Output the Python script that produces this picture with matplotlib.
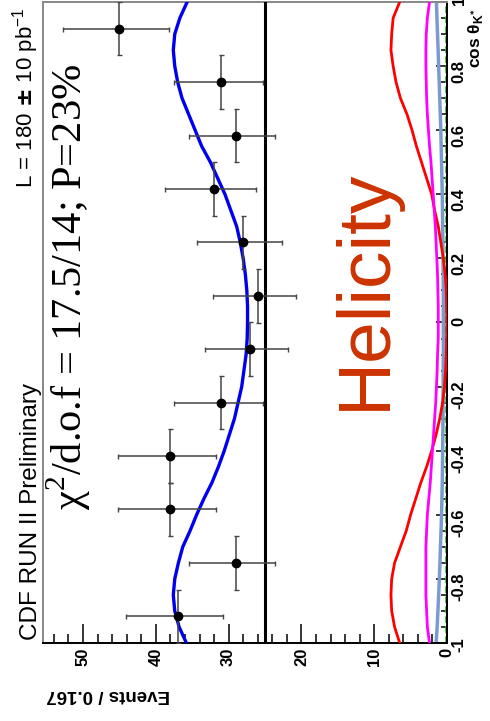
import matplotlib
matplotlib.use("Agg")
import matplotlib.pyplot as plt
from matplotlib.ticker import MultipleLocator, FuncFormatter

plt.rcParams['font.family'] = ['Liberation Sans', 'DejaVu Sans']
plt.rcParams['font.weight'] = 'bold'

# data points (cos theta_K* bin centres, events, poisson errors)
cos_centers = [-0.917, -0.75, -0.583, -0.417, -0.25, -0.083,
               0.083, 0.25, 0.417, 0.583, 0.75, 0.917]
events = [37, 29, 38, 38, 31, 27, 26, 28, 32, 29, 31, 45]
err_hi = [7.1, 6.5, 7.2, 7.2, 6.5, 6.2, 6.1, 6.4, 6.8, 6.5, 6.5, 7.7]
err_lo = [6.2, 5.4, 6.2, 6.2, 5.7, 5.2, 5.2, 5.4, 5.7, 5.4, 5.7, 6.8]
bin_half = 0.0833
flat_level = 25

# curves
cos_grid = [-1.00, -0.95, -0.90, -0.85, -0.80, -0.75, -0.70, -0.65, -0.60, -0.55,
            -0.50, -0.45, -0.40, -0.35, -0.30, -0.25, -0.20, -0.15, -0.10, -0.05,
            0.00, 0.05, 0.10, 0.15, 0.20, 0.25, 0.30, 0.35, 0.40, 0.45,
            0.50, 0.55, 0.60, 0.65, 0.70, 0.75, 0.80, 0.85, 0.90, 0.95, 1.00]
fit_total = [35.8, 36.8, 37.4, 37.6, 37.4, 36.9, 36.3, 35.3, 34.4, 33.4,
             32.3, 31.4, 30.6, 29.9, 29.2, 28.7, 28.2, 27.9, 27.6, 27.45,
             27.4, 27.4, 27.5, 27.7, 28.0, 28.4, 28.9, 29.7, 30.5, 31.5,
             32.5, 33.7, 34.6, 35.5, 36.4, 37.0, 37.4, 37.6, 37.4, 36.7, 35.7]
comp_red = [6.5, 7.2, 7.6, 7.7, 7.6, 7.2, 6.4, 5.6, 5.0, 4.3,
            3.6, 2.8, 2.1, 1.5, 1.0, 0.6, 0.35, 0.2, 0.1, 0.05,
            0.03, 0.05, 0.1, 0.25, 0.5, 0.85, 1.2, 1.7, 2.1, 2.8,
            3.5, 4.2, 4.8, 5.5, 6.4, 7.0, 7.4, 7.7, 7.6, 7.4, 6.5]
comp_magenta = [2.4, 2.7, 2.8, 2.9, 2.9, 2.9, 2.9, 2.8, 2.7, 2.5,
                2.3, 2.15, 2.0, 1.85, 1.7, 1.55, 1.45, 1.35, 1.3, 1.2,
                1.2, 1.2, 1.25, 1.3, 1.4, 1.5, 1.6, 1.75, 1.9, 2.05,
                2.2, 2.4, 2.55, 2.7, 2.8, 2.85, 2.9, 2.9, 2.85, 2.7, 2.4]
comp_lightblue = [1.5, 1.35, 1.25, 1.15, 1.05, 0.97, 0.9, 0.82, 0.75, 0.7,
                  0.65, 0.62, 0.6, 0.57, 0.55, 0.55, 0.53, 0.52, 0.5, 0.5,
                  0.5, 0.5, 0.5, 0.52, 0.55, 0.57, 0.6, 0.62, 0.65, 0.7,
                  0.75, 0.8, 0.85, 0.92, 1.0, 1.07, 1.15, 1.22, 1.3, 1.38, 1.45]
comp_green = [0.15] * len(cos_grid)

W, H = 490, 721
fig = plt.figure(figsize=(W / 100, H / 100), dpi=100)
ax = fig.add_axes([43 / W, 1 - 643 / H, (447 - 43) / W, (643 - 2) / H])


def px(x, y):
    # pixel position in the picture -> figure fraction
    return x / W, 1 - y / H


# the whole plot is turned on its side: events run right->left, cos runs up
ax.plot(comp_lightblue, cos_grid, color='#7b9bd0', lw=2.5, zorder=2)
ax.plot(comp_green, cos_grid, color='#33bb33', lw=1.2, ls=(0, (4, 2)), zorder=2)
ax.plot(comp_red, cos_grid, color='#ff0000', lw=2.0, zorder=3)
ax.plot(comp_magenta, cos_grid, color='#ff00ff', lw=2.0, zorder=3)
ax.axvline(flat_level, color='black', lw=2.2, zorder=3)
ax.plot(fit_total, cos_grid, color='#0000ee', lw=2.4, zorder=4)
ax.errorbar(events, cos_centers, xerr=[err_lo, err_hi], yerr=bin_half,
            fmt='o', color='black', ms=6, ecolor='#444444', elinewidth=1.1,
            capsize=1.8, capthick=1.0, zorder=5)

ax.set_xlim(55.5, 0)
ax.set_ylim(-1, 1)

ax.xaxis.set_major_locator(MultipleLocator(10))
ax.xaxis.set_minor_locator(MultipleLocator(2))
ax.yaxis.set_major_locator(MultipleLocator(0.2))
ax.yaxis.set_minor_locator(MultipleLocator(0.05))
ax.yaxis.set_major_formatter(FuncFormatter(lambda v, p: '{:g}'.format(round(v, 2))))
ax.xaxis.set_major_formatter(FuncFormatter(lambda v, p: '{:g}'.format(v)))

ax.tick_params(axis='x', which='both', direction='in', top=False, bottom=True,
               labelrotation=90, labelsize=12, pad=3.5, width=1.1)
ax.tick_params(axis='x', which='major', length=13.5)
ax.tick_params(axis='x', which='minor', length=6.5)
ax.tick_params(axis='y', which='both', direction='in', left=False, right=True,
               labelleft=False, labelright=True, labelrotation=90,
               labelsize=12, pad=3.5, width=1.1)
ax.tick_params(axis='y', which='major', length=8)
ax.tick_params(axis='y', which='minor', length=4)

for side in ['right', 'bottom']:
    ax.spines[side].set_linewidth(1.4)
    ax.spines[side].set_color('black')
for side in ['left', 'top']:
    ax.spines[side].set_linewidth(1.4)
    ax.spines[side].set_color('#888888')

# texts, all rotated like the plot
fig.text(*px(37, 640), 'CDF RUN II Preliminary', rotation=90,
         rotation_mode='anchor', ha='left', va='baseline', fontsize=17.5,
         fontweight='normal')
fig.text(*px(32, 188), r'L = 180 $\pm$ 10 pb$^{\mathregular{-1}}$', rotation=90,
         rotation_mode='anchor', ha='left', va='baseline', fontsize=16,
         fontweight='normal')
fig.text(*px(82, 510), r'χ$^{\mathregular{2}}$/d.o.f = 17.5/14; P=23%',
         rotation=90, rotation_mode='anchor', ha='left', va='baseline',
         fontsize=30.5, fontweight='normal', family=['Liberation Serif', 'DejaVu Serif'])
fig.text(*px(385, 410), 'Helicity', rotation=90, rotation_mode='anchor',
         ha='left', va='baseline', fontsize=54, fontweight='normal',
         color='#cc3300')
fig.text(*px(480, 68), r'cos θ$_{\mathregular{K}^{*}}$', rotation=90,
         rotation_mode='anchor', ha='left', va='baseline', fontsize=12.5)
fig.text(*px(170, 690), 'Events / 0.167', rotation=180, rotation_mode='anchor',
         ha='left', va='baseline', fontsize=13.5)

fig.savefig('out.png', dpi=100)
